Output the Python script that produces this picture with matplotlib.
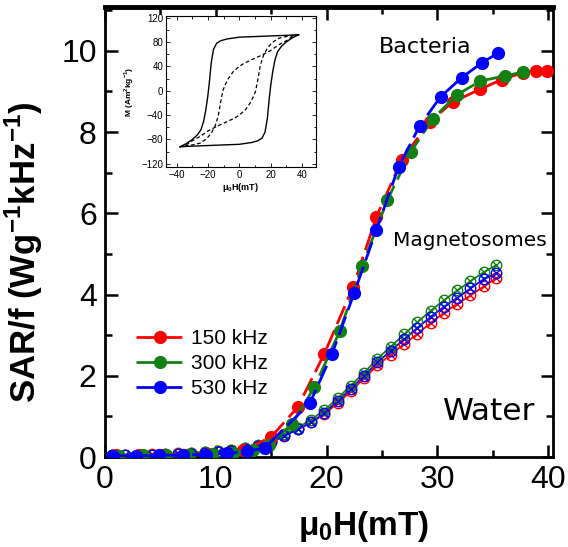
import matplotlib
matplotlib.use('Agg')
import matplotlib.pyplot as plt
from matplotlib.ticker import MultipleLocator

plt.rcParams['font.family'] = ['Liberation Sans', 'DejaVu Sans']
plt.rcParams['mathtext.fontset'] = 'custom'
plt.rcParams['mathtext.rm'] = 'Liberation Sans'
plt.rcParams['mathtext.bf'] = 'Liberation Sans:bold'

# Bacteria (filled circles)
bac_150_x = [1.0, 3.1, 5.2, 7.3, 9.4, 11.2, 12.5, 15.0, 17.4, 19.8, 22.4, 24.5, 26.8, 29.3, 31.4, 33.9, 35.8, 37.7, 38.9, 39.9]
bac_150_y = [0.04, 0.04, 0.05, 0.06, 0.08, 0.11, 0.17, 0.49, 1.23, 2.54, 4.19, 5.91, 7.32, 8.25, 8.74, 9.06, 9.29, 9.46, 9.51, 9.51]
bac_300_x = [1.3, 3.4, 5.5, 7.6, 9.7, 11.6, 13.4, 14.8, 16.9, 18.9, 21.2, 23.2, 25.5, 27.6, 29.6, 31.8, 33.9, 36.1, 37.7]
bac_300_y = [0.03, 0.04, 0.04, 0.05, 0.07, 0.10, 0.17, 0.30, 0.81, 1.72, 3.10, 4.70, 6.33, 7.51, 8.33, 8.92, 9.26, 9.38, 9.48]
bac_530_x = [0.7, 2.8, 4.9, 7.0, 9.1, 11.0, 12.8, 14.4, 18.5, 20.5, 22.5, 24.5, 26.5, 28.4, 30.3, 32.2, 34.0, 35.5]
bac_530_y = [0.03, 0.03, 0.04, 0.05, 0.06, 0.09, 0.14, 0.22, 1.33, 2.54, 4.04, 5.59, 7.14, 8.15, 8.87, 9.34, 9.70, 9.95]

# Magnetosomes (open circles with cross)
mag_x = [0.6, 1.8, 3.0, 4.2, 5.4, 6.6, 7.8, 9.0, 10.2, 11.4, 12.6, 13.8, 15.0, 16.2, 17.4,
         18.6, 19.8, 21.0, 22.2, 23.4, 24.6, 25.8, 27.0, 28.2, 29.4, 30.6, 31.8, 33.0, 34.2, 35.3]
mag_150 = [0.05, 0.06, 0.06, 0.07, 0.08, 0.09, 0.11, 0.13, 0.15, 0.18, 0.22, 0.28, 0.38, 0.54, 0.68,
           0.85, 1.05, 1.33, 1.62, 1.94, 2.26, 2.52, 2.78, 3.03, 3.30, 3.55, 3.77, 3.98, 4.20, 4.40]
mag_300 = [0.04, 0.05, 0.05, 0.06, 0.07, 0.08, 0.10, 0.12, 0.14, 0.17, 0.22, 0.29, 0.40, 0.56, 0.72,
           0.92, 1.15, 1.45, 1.76, 2.08, 2.42, 2.72, 3.02, 3.32, 3.60, 3.86, 4.10, 4.33, 4.55, 4.72]
mag_530 = [0.04, 0.04, 0.05, 0.05, 0.06, 0.07, 0.08, 0.10, 0.12, 0.15, 0.19, 0.26, 0.36, 0.52, 0.68,
           0.85, 1.08, 1.38, 1.68, 2.00, 2.33, 2.62, 2.90, 3.18, 3.45, 3.70, 3.92, 4.15, 4.38, 4.52]

labels = ['150 kHz', '300 kHz', '530 kHz']
colors = ['#ff0000', '#138013', '#0000ff']

# Inset hysteresis loops (upper branch, field sweeping down)
loop_solid_x = [38, 30, 20, 10, 0, -8, -12, -14.5, -16.5, -18, -19.3, -20.2, -21.4, -22.8, -24.5, -27, -30, -34, -38]
loop_solid_y = [92, 91, 90, 89, 88, 85, 82, 78, 68, 45, 10, -10, -31, -50, -64, -73, -80, -87, -92]
loop_dash_x = [38, 34, 30, 25, 20, 14, 8, 3, 0, -4, -7, -9, -10.5, -12, -13.5, -15.5, -18, -21, -25, -30, -38]
loop_dash_y = [92, 89, 82, 75, 66, 58, 51, 45, 40, 31, 20, 10, 0, -20, -42, -58, -70, -79, -86, -89, -92]

fig = plt.figure(figsize=(5.68, 5.47), dpi=100)
ax = fig.add_axes([0.1849, 0.1645, 0.7887, 0.8227])

bac = [(bac_150_x, bac_150_y), (bac_300_x, bac_300_y), (bac_530_x, bac_530_y)]
mags = [mag_150, mag_300, mag_530]

for my, c in zip(mags, colors):
    ax.plot(mag_x, my, '-', color=c, lw=1.3, zorder=2)
    ax.plot(mag_x, my, 'o', mfc='none', mec=c, ms=7.5, mew=1.0, zorder=3)
    ax.plot(mag_x, my, 'x', color=c, ms=5.5, mew=1.0, zorder=3)

for (bx, by), c, lab in zip(bac, colors, labels):
    ax.plot(bx, by, color=c, lw=2, ls=(0, (7, 2.5)), marker='o', ms=8.5,
            mec=c, mfc=c, zorder=4, label=lab)

ax.set_xlim(0, 40.45)
ax.set_ylim(0, 11.08)
ax.xaxis.set_major_locator(MultipleLocator(10))
ax.xaxis.set_minor_locator(MultipleLocator(5))
ax.yaxis.set_major_locator(MultipleLocator(2))
ax.yaxis.set_minor_locator(MultipleLocator(1))
ax.tick_params(which='both', direction='in', top=True, right=True, width=1.8, labelsize=23, pad=6)
ax.tick_params(which='major', length=9)
ax.tick_params(which='minor', length=5)
for s in ax.spines.values():
    s.set_linewidth(2)
ax.spines['top'].set_linewidth(3.5)

ax.set_xlabel('μ$_{\\mathbf{0}}$H(mT)', fontsize=24, fontweight='bold')
ax.xaxis.set_label_coords(0.578, -0.115)
ax.set_ylabel('SAR/f (Wg$^{\\mathbf{-1}}$kHz$^{\\mathbf{-1}}$)', fontsize=25, fontweight='bold')
ax.yaxis.set_label_coords(-0.135, 0.455)

ax.text(28.9, 10.1, 'Bacteria', fontsize=16, family='DejaVu Sans', ha='center', va='center')
ax.text(32.9, 5.34, 'Magnetosomes', fontsize=14.5, family='DejaVu Sans', ha='center', va='center')
ax.text(34.7, 1.13, 'Water', fontsize=22.5, family='DejaVu Sans', ha='center', va='center')

ax.legend(loc='upper left', bbox_to_anchor=(136 / 568, 1 - 329 / 547), bbox_transform=fig.transFigure,
          frameon=False, fontsize=15, handlelength=2.3, handletextpad=0.35, labelspacing=0.3,
          borderpad=0, borderaxespad=0)

# inset
ins = fig.add_axes([0.292, 0.695, 0.264, 0.276])
ins.plot(loop_solid_x, loop_solid_y, 'k-', lw=1)
ins.plot([-v for v in loop_solid_x], [-v for v in loop_solid_y], 'k-', lw=1)
ins.plot(loop_dash_x, loop_dash_y, 'k--', lw=0.9, dashes=(3, 2))
ins.plot([-v for v in loop_dash_x], [-v for v in loop_dash_y], 'k--', lw=0.9, dashes=(3, 2))
ins.set_xlim(-47, 49)
ins.set_ylim(-125, 123)
ins.xaxis.set_major_locator(MultipleLocator(20))
ins.xaxis.set_minor_locator(MultipleLocator(10))
ins.yaxis.set_major_locator(MultipleLocator(40))
ins.yaxis.set_minor_locator(MultipleLocator(20))
ins.tick_params(which='both', direction='in', top=True, right=True, labelsize=7, width=0.6, pad=2)
ins.tick_params(which='major', length=3)
ins.tick_params(which='minor', length=1.8)
for s in ins.spines.values():
    s.set_linewidth(0.8)
ins.set_xlabel('μ$_{\\mathbf{0}}$H(mT)', fontsize=6.5, fontweight='bold', labelpad=1)
ins.set_ylabel('M (Am$^{\\mathbf{2}}$kg$^{\\mathbf{-1}}$)', fontsize=6, fontweight='bold', labelpad=4)

fig.savefig('out.png', dpi=100)
